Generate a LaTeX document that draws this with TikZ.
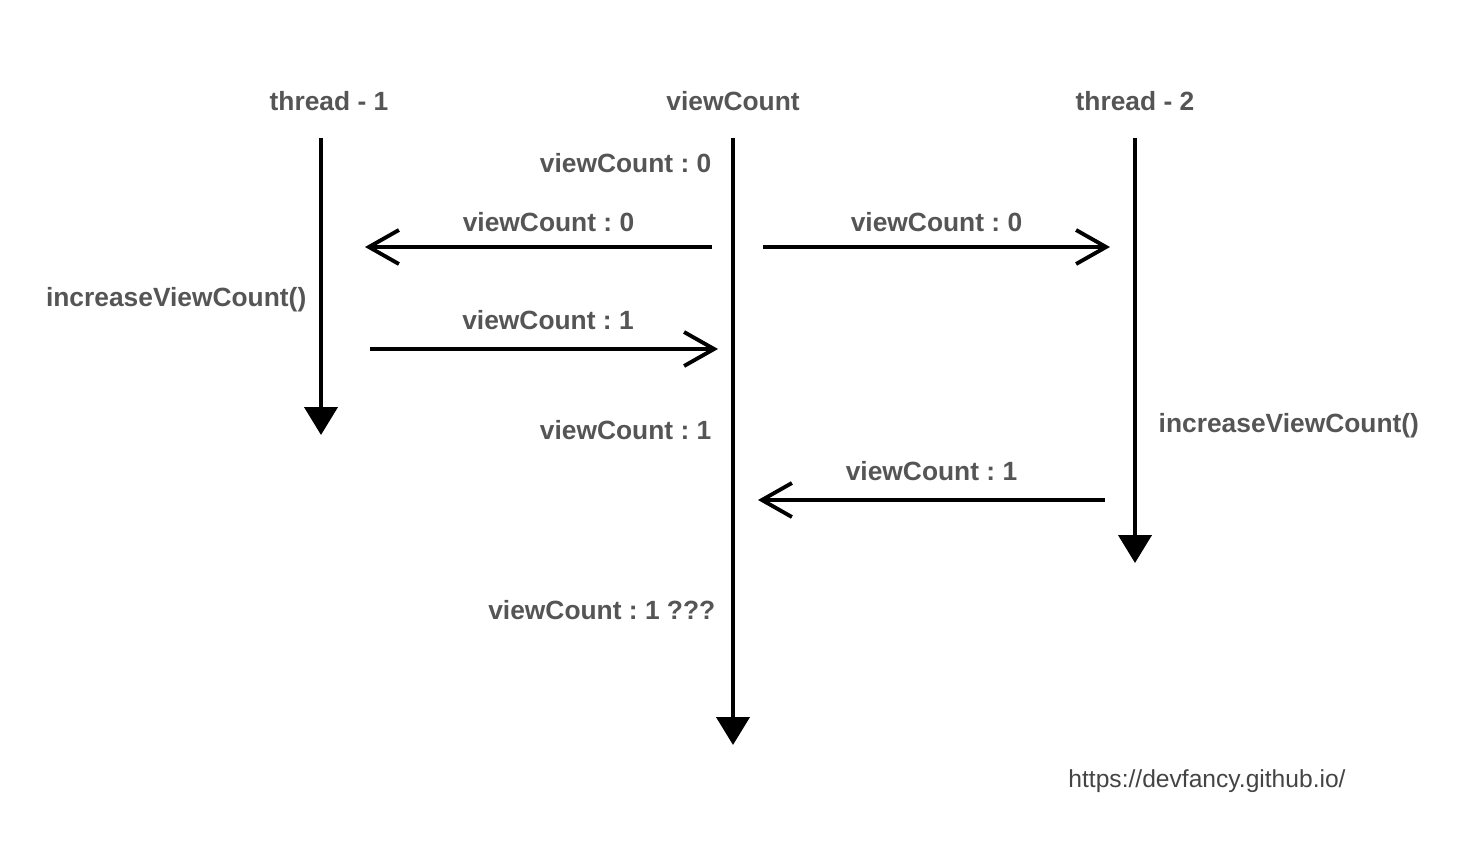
\documentclass[tikz,border=0pt]{standalone}
\usepackage{fontspec}
\setmainfont{Liberation Sans}
\frenchspacing
\usetikzlibrary{arrows.meta}
\definecolor{txtgray}{HTML}{555555}
\definecolor{urlgray}{HTML}{444444}
\tikzset{
    lifeline/.style={line width=1.2pt, -{Triangle[length=2.8mm, width=3.3mm]}},
    msg/.style={line width=1.1pt, -{Straight Barb[length=3mm, width=3.4mm, line width=1.1pt]}},
    lbl/.style={font=\fontsize{7.5}{9}\selectfont\bfseries, text=txtgray, inner sep=0pt}
}
\begin{document}
\begin{tikzpicture}
    \useasboundingbox (0,0) rectangle (14.80,8.56);

    % heads
    \node[lbl] (t1) at (3.29,7.55) {thread - 1};
    \node[lbl] (vc) at (7.33,7.55) {viewCount};
    \node[lbl] (t2) at (11.35,7.55) {thread - 2};

    % lifelines
    \coordinate (t1top) at (3.21,7.18); \coordinate (t1end) at (3.21,4.21);
    \coordinate (vctop) at (7.33,7.18); \coordinate (vcend) at (7.33,1.11);
    \coordinate (t2top) at (11.35,7.18); \coordinate (t2end) at (11.35,2.93);
    \draw[lifeline] (t1top) -- (t1end);
    \draw[lifeline] (vctop) -- (vcend);
    \draw[lifeline] (t2top) -- (t2end);

    % messages
    \coordinate (r1a) at (7.12,6.09); \coordinate (r1b) at (3.65,6.09);
    \coordinate (r2a) at (7.63,6.09); \coordinate (r2b) at (11.10,6.09);
    \coordinate (w1a) at (3.70,5.07); \coordinate (w1b) at (7.18,5.07);
    \coordinate (w2a) at (11.05,3.56); \coordinate (w2b) at (7.58,3.56);
    \draw[msg] (r1a) -- (r1b) node[lbl, midway, above=0.13cm, xshift=0.1cm] (r1l) {viewCount : 0};
    \draw[msg] (r2a) -- (r2b) node[lbl, midway, above=0.13cm] (r2l) {viewCount : 0};
    \draw[msg] (w1a) -- (w1b) node[lbl, midway, above=0.17cm, xshift=0.04cm] (w1l) {viewCount : 1};
    \draw[msg] (w2a) -- (w2b) node[lbl, midway, above=0.17cm] (w2l) {viewCount : 1};

    % values
    \node[lbl, anchor=east] (v0) at (7.12,6.93) {viewCount : 0};
    \node[lbl, anchor=east] (v1) at (7.12,4.26) {viewCount : 1};
    \node[lbl, anchor=east] (v2) at (7.16,2.46) {viewCount : 1 ???};
    \node[lbl, anchor=east] (inc1) at (3.07,5.56) {increaseViewCount()};
    \node[lbl, anchor=west] (inc2) at (11.58,4.30) {increaseViewCount()};

    \node[font=\fontsize{7}{9}\selectfont, text=urlgray, inner sep=0pt] (url) at (12.07,0.75) {https://devfancy.github.io/};
\end{tikzpicture}
\end{document}
